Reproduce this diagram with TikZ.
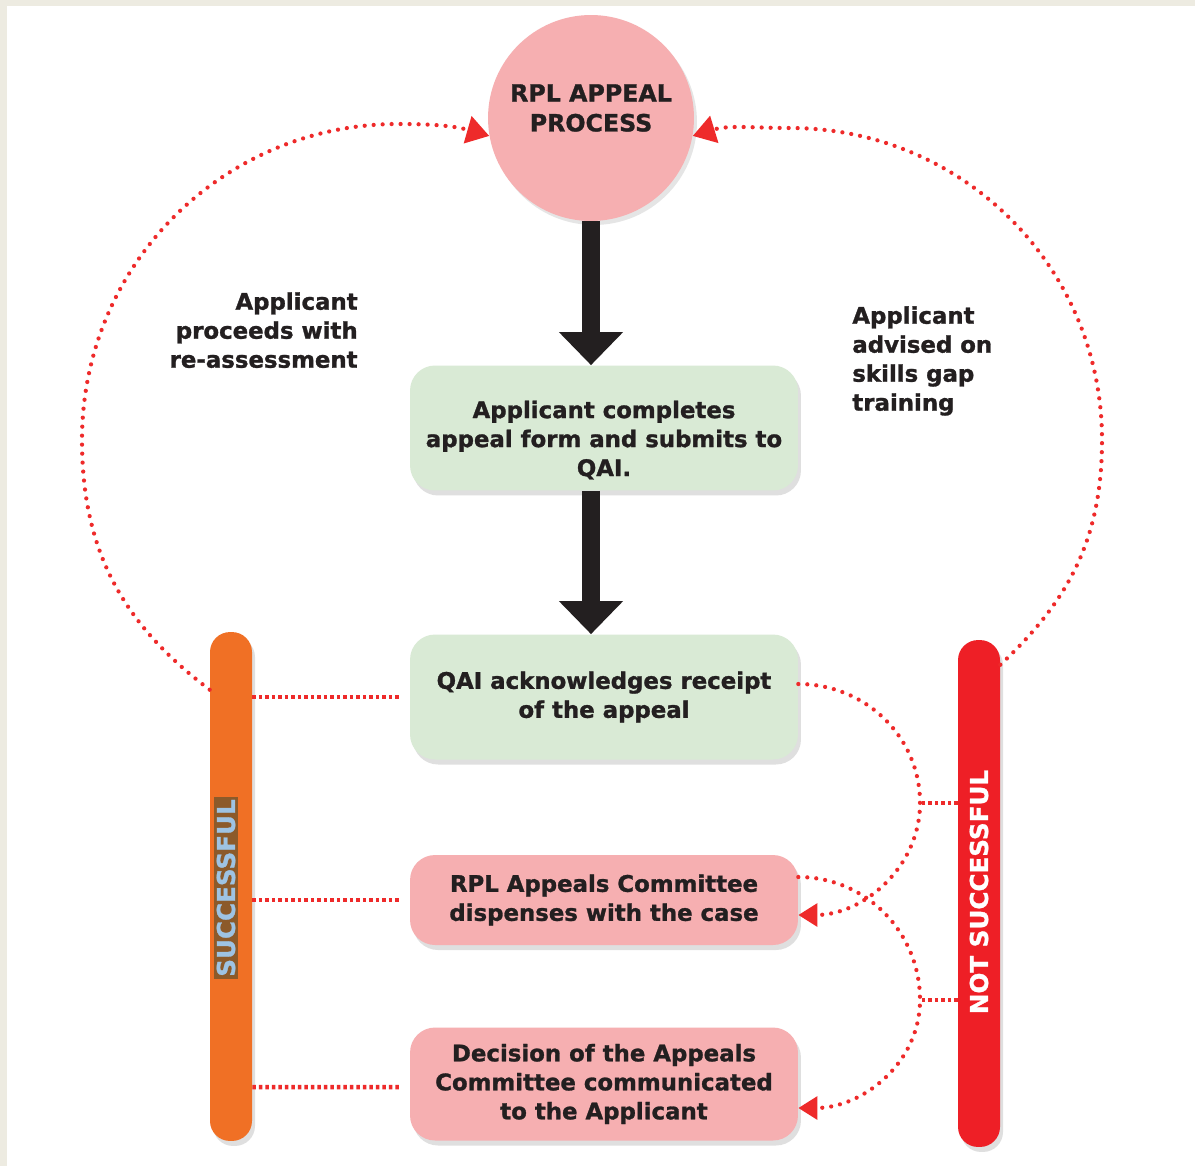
\documentclass[tikz,border=0pt]{standalone}
\usepackage{fontspec}
\setmainfont{DejaVu Sans}[BoldFeatures={FakeBold=1.2}]
\usepackage{xcolor}
\usetikzlibrary{arrows.meta,positioning,shadows}

\definecolor{pagebeige}{HTML}{EDEBE1}
\definecolor{pinkfill}{HTML}{F6AFB1}
\definecolor{greenfill}{HTML}{D9EAD5}
\definecolor{barorange}{HTML}{F07025}
\definecolor{barred}{HTML}{EE1F26}
\definecolor{dotred}{HTML}{EE2A2A}
\definecolor{inkdark}{HTML}{231F20}
\definecolor{succbrown}{HTML}{8C5A2A}
\definecolor{succblue}{HTML}{9EC3E3}

\begin{document}
\begin{tikzpicture}[
  x=0.02cm, y=0.02cm,
  font=\bfseries\fontsize{13}{16.5}\selectfont,
  procbox/.style={rectangle, rounded corners=0.5cm, minimum width=7.76cm,
                  align=center, text=inkdark,
                  drop shadow={opacity=0.25, shadow xshift=0.06cm, shadow yshift=-0.1cm}},
  bar/.style={rectangle, rounded corners=0.4cm, minimum width=0.84cm,
              drop shadow={opacity=0.25, shadow xshift=0.06cm, shadow yshift=-0.1cm}},
  bartext/.style={rotate=90, inner sep=0.05cm, font=\bfseries\fontsize{14}{14}\selectfont},
  note/.style={inner sep=0pt, text=inkdark},
  bigarr/.style={draw=inkdark, line width=0.36cm, -{Triangle[width=1.24cm,length=0.66cm]}},
  dotl/.style={draw=dotred, line width=0.085cm, line cap=round, dash pattern=on 0pt off 0.18cm},
  dotarr/.style={dotl, -{Triangle[width=0.55cm,length=0.45cm]}},
  densedot/.style={draw=dotred, line width=0.09cm, dash pattern=on 0.07cm off 0.06cm},
]
  % page
  \useasboundingbox (0,0) rectangle (1195,-1166);
  \fill[pagebeige] (0,0) rectangle (1195,-1166);
  \fill[white] (7,-6) rectangle (1195,-1166);

  % main column
  \node[circle, fill=pinkfill, minimum size=4.12cm, inner sep=0pt, text=inkdark,
        drop shadow={opacity=0.2, shadow xshift=0.06cm, shadow yshift=-0.08cm}]
        (circ) at (591,-118) {};
  \node[align=center, text=inkdark, font=\bfseries\fontsize{13.5}{17}\selectfont]
        (circtxt) at (591,-108) {RPL APPEAL\\PROCESS};
  \node[procbox, fill=greenfill, minimum height=2.5cm] (form) at (604,-428)
    {\rule{0pt}{0.83cm}Applicant completes\\appeal form and submits to\\QAI.};
  \node[procbox, fill=greenfill, minimum height=2.5cm] (ack) at (604,-697)
    {QAI acknowledges receipt\\of the appeal};
  \node[procbox, fill=pinkfill, minimum height=1.8cm] (disp) at (604,-900)
    {RPL Appeals Committee\\dispenses with the case};
  \node[procbox, fill=pinkfill, minimum height=2.26cm] (dec) at (604,-1084)
    {Decision of the Appeals\\Committee communicated\\to the Applicant};

  % outcome bars
  \node[bar, fill=barorange, minimum height=10.18cm] (succ) at (231,-886.5) {};
  \node[bartext, fill=succbrown, text=succblue] (succtxt) at (226,-888) {SUCCESSFUL};
  \node[bar, fill=barred, minimum height=10.14cm] (fail) at (979,-893.5) {};
  \node[bartext, text=white] (failtxt) at (979,-892) {NOT SUCCESSFUL};

  % side notes
  \node[note, anchor=north east, align=right] (lblL) at (358,-292)
    {Applicant\\proceeds with\\re-assessment};
  \node[note, anchor=north west, align=left] (lblR) at (852,-306)
    {Applicant\\advised on\\skills gap\\training};

  % black arrows
  \draw[bigarr] (circ.south) -- (circ.south |- form.north);
  \draw[bigarr] (form.south -| circ) -- (ack.north -| circ);

  % successful links
  \draw[densedot] (succ.east |- ack) -- ([xshift=-0.16cm]ack.west);
  \draw[densedot] (succ.east |- disp) -- ([xshift=-0.16cm]disp.west);
  \draw[densedot] (succ.east |- 0,-1087) -- ([xshift=-0.16cm,yshift=-0.06cm]dec.west);

  % loops back to the start
  \draw[dotarr] ([yshift=-1.16cm]succ.north west) to[out=143,in=270] (82,-440)
    to[out=90,in=180] (398,-124) to[out=0,in=164] (circ.190);
  \draw[dotarr] ([yshift=-0.5cm]fail.north east) to[out=43,in=270] (1102,-440)
    to[out=90,in=0] (790,-128) to[out=180,in=17] (circ.-10);

  % not successful links
  \coordinate (j1) at (920,-803);
  \coordinate (j2) at (920,-1000);
  \draw[dotarr, -{Triangle[width=0.45cm,length=0.38cm]}] ([yshift=0.26cm]ack.east)
    to[out=0,in=90] (j1) to[out=270,in=0] ([yshift=-0.3cm]disp.east);
  \draw[dotarr, -{Triangle[width=0.45cm,length=0.38cm]}] ([yshift=0.46cm]disp.east)
    to[out=0,in=90] (j2) to[out=270,in=0] ([yshift=-0.48cm]dec.east);
  \draw[densedot] (fail.west |- j1) -- (j1);
  \draw[densedot] (fail.west |- j2) -- (j2);
\end{tikzpicture}
\end{document}
